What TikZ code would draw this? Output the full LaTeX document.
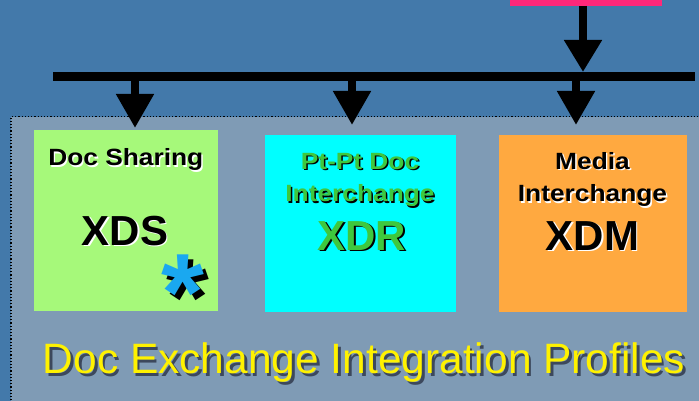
\documentclass[tikz,border=0pt]{standalone}
\usepackage{fontspec}
\setmainfont{Liberation Sans}
\newfontfamily\boxfont[FakeStretch=1.12]{Liberation Sans}
\usetikzlibrary{arrows.meta}
\definecolor{bgblue}{RGB}{67,121,170}
\definecolor{panel}{RGB}{127,155,181}
\definecolor{boxgreen}{RGB}{166,249,122}
\definecolor{boxcyan}{RGB}{0,255,255}
\definecolor{boxorange}{RGB}{255,169,64}
\definecolor{srcpink}{RGB}{255,40,122}
\definecolor{txtgreen}{RGB}{62,200,62}
\definecolor{starblue}{RGB}{26,168,240}
\definecolor{titleshadow}{RGB}{60,72,92}
% text with a drop shadow: #1 shadow colour, #2 x offset, #3 y offset, #4 text
\newcommand\shtext[4]{\makebox[0pt][l]{\kern#2\raisebox{-#3}{\textcolor{#1}{#4}}}#4}
\begin{document}
\begin{tikzpicture}[x=1pt,y=-1pt,
  box/.style={anchor=north west,inner sep=0pt,outer sep=0pt},
  lbl/.style={anchor=base,inner sep=0pt,font=\boxfont\bfseries\fontsize{23.5}{26}\selectfont},
  big/.style={anchor=base,inner sep=0pt,font=\bfseries\fontsize{42}{46}\selectfont},
  arr/.style={line width=8pt,black,-{Triangle[length=34pt,width=36pt]}}]
\useasboundingbox (0,0) rectangle (699,401);
\fill[bgblue] (0,0) rectangle (699,401);
\fill[panel] (11,116.7) rectangle (705,410);
\draw[black,dotted,line width=1.2pt] (11,410) -- (11,116.7) -- (705,116.7);
% source and bus
\node[box,fill=srcpink,minimum width=152pt,minimum height=16pt] (src) at (510,-10) {};
\node[box,fill=black,minimum width=642pt,minimum height=9pt] (bar) at (53,72) {};
% boxes
\node[box,fill=boxgreen,minimum width=184pt,minimum height=181pt] (xds) at (34,130) {};
\node[box,fill=boxcyan,minimum width=191pt,minimum height=177pt] (xdr) at (265,135) {};
\node[box,fill=boxorange,minimum width=188pt,minimum height=177pt] (xdm) at (499,135) {};
% arrows
\coordinate (c0) at (583,0);
\coordinate (a1) at (135,128);
\coordinate (a2) at (352,125);
\coordinate (a3) at (576,125);
\draw[arr,-{Triangle[length=32pt,width=36pt]}] (src.south -| c0) -- (bar.north -| c0);
\draw[arr] (bar.south -| a1) -- (a1);
\draw[arr] (bar.south -| a2) -- (a2);
\draw[arr] (bar.south -| a3) -- (a3);
% XDS texts
\node[lbl,black] (t1) at (125.8,165.7) {\shtext{white}{1.4pt}{1.4pt}{Doc Sharing}};
\node[big,black] (t2) at (125,245) {\shtext{white}{1.4pt}{1.4pt}{XDS}};
\node[anchor=base,inner sep=0pt,font=\bfseries\fontsize{110}{110}\selectfont,starblue] (star) at (180,330) {\shtext{black}{5pt}{5pt}{*}\kern-5pt};
% XDR texts
\node[lbl,txtgreen] (t3) at (360,169) {\shtext{black}{1.5pt}{1.5pt}{Pt-Pt Doc}};
\node[lbl,txtgreen] (t4) at (360,201.7) {\shtext{black}{1.5pt}{1.5pt}{Interchange}};
\node[big,txtgreen] (t5) at (361.7,250) {\shtext{black}{1.8pt}{1.8pt}{XDR}};
% XDM texts
\node[lbl,black] (t6) at (592.5,169) {\shtext{white}{1.4pt}{1.4pt}{Media}};
\node[lbl,black] (t7) at (592.5,201.7) {\shtext{white}{1.4pt}{1.4pt}{Interchange}};
\node[big,black] (t8) at (592.5,250) {\shtext{white}{1.4pt}{1.4pt}{XDM}};
% title
\node[anchor=base,inner sep=0pt,font=\fontsize{42.5}{46}\selectfont,yellow] (title) at (364,373.3) {\shtext{titleshadow}{2.7pt}{2.7pt}{Doc Exchange Integration Profiles}};
\end{tikzpicture}
\end{document}
